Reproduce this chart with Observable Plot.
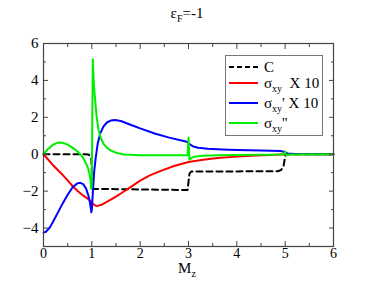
<!DOCTYPE html>
<html>
<head>
<meta charset="utf-8">
<script src="https://cdn.jsdelivr.net/npm/d3@7"></script>
<script src="https://cdn.jsdelivr.net/npm/@observablehq/plot@0.6"></script>
<style>
  html, body { margin: 0; padding: 0; background: #fff; }
  #wrap { position: relative; width: 374px; height: 289px; font-family: "Liberation Serif", "DejaVu Serif", serif; color: #000; }
  #chart { position: absolute; left: 0; top: 0; }
  #chart svg text { font-family: "Liberation Serif", "DejaVu Serif", serif !important; }
  .title { position: absolute; left: 0; width: 374px; top: 6px; text-align: center; font-size: 15px; line-height: 15px; }
  .xlabel { position: absolute; left: 0; width: 374px; top: 263px; text-align: center; font-size: 15px; line-height: 10px; }
  sub { font-size: 10px; vertical-align: -4px; line-height: 0; }
  #legend { position: absolute; left: 225px; top: 55px; width: 96px; height: 79px; border: 1px solid #777; background: #fff; font-size: 15px; }
  .row { position: absolute; left: 3px; height: 18px; display: flex; align-items: center; white-space: pre; }
  .row svg { margin-right: 5px; }
</style>
</head>
<body>
<div id="wrap">
  <div id="chart"></div>
  <div class="title">ε<sub>F</sub>=-1</div>
  <div class="xlabel">M<sub>z</sub></div>
  <div id="legend"></div>
</div>
<script>
// Series: C (dashed black)
const cX = [0, 0.85, 0.93, 0.97, 0.99, 1.01, 1.03, 1.1, 2.0, 2.98, 3.0, 3.02, 3.06, 4.0, 4.85, 4.92, 4.97, 5.0, 5.02, 6];
const cY = [0, 0, -0.02, -0.08, -0.2, -1.85, -1.88, -1.88, -1.91, -1.94, -1.5, -1.05, -0.93, -0.93, -0.92, -0.85, -0.6, -0.1, 0, 0];

// σxy × 10 (red)
const redX = [0, 0.1, 0.2, 0.3, 0.4, 0.5, 0.6, 0.7, 0.8, 0.9, 0.97, 1.02, 1.07, 1.12, 1.2, 1.3, 1.4, 1.5, 1.6, 1.8, 2.0, 2.2, 2.4, 2.7, 3.0, 3.3, 3.6, 4.0, 4.4, 4.8, 5.0, 5.5, 6];
const redY = [0, -0.3, -0.6, -0.87, -1.13, -1.42, -1.72, -1.98, -2.2, -2.38, -2.52, -2.68, -2.78, -2.8, -2.74, -2.6, -2.45, -2.3, -2.13, -1.78, -1.43, -1.15, -0.93, -0.64, -0.42, -0.3, -0.21, -0.13, -0.07, -0.03, 0, 0, 0];

// σxy' × 10 (blue)
const blueX = [0, 0.05, 0.13, 0.2, 0.3, 0.4, 0.5, 0.6, 0.7, 0.76, 0.82, 0.88, 0.93, 0.96, 0.98, 0.99, 1.0, 1.02, 1.05, 1.08, 1.12, 1.17, 1.24, 1.31, 1.4, 1.48, 1.6, 1.8, 2.0, 2.3, 2.6, 2.9, 2.98, 3.02, 3.1, 3.2, 3.4, 3.7, 4.0, 4.5, 4.9, 5.0, 5.05, 5.2, 6];
const blueY = [-4.25, -4.2, -3.97, -3.65, -3.15, -2.65, -2.2, -1.8, -1.58, -1.55, -1.62, -1.85, -2.25, -2.6, -2.95, -3.15, -3.0, -2.1, -0.9, -0.2, 0.55, 1.1, 1.5, 1.72, 1.83, 1.86, 1.8, 1.6, 1.4, 1.12, 0.9, 0.72, 0.66, 0.55, 0.42, 0.35, 0.3, 0.26, 0.23, 0.2, 0.17, 0.12, 0.04, 0.01, 0];

// σxy'' (green)
const greenX = [0, 0.1, 0.2, 0.3, 0.4, 0.5, 0.6, 0.7, 0.76, 0.82, 0.88, 0.92, 0.95, 0.97, 0.99, 1.0, 1.01, 1.02, 1.03, 1.05, 1.07, 1.1, 1.14, 1.19, 1.24, 1.3, 1.38, 1.5, 1.66, 2.0, 2.5, 2.98, 3.0, 3.01, 3.02, 3.04, 3.08, 3.15, 3.3, 3.6, 4.0, 4.5, 4.95, 5.0, 5.02, 5.1, 6];
const greenY = [0, 0.3, 0.52, 0.63, 0.62, 0.52, 0.36, 0.16, 0.0, -0.2, -0.5, -0.75, -1.05, -1.35, -1.88, -1.5, 2.0, 5.15, 4.4, 3.5, 2.9, 2.0, 1.3, 0.85, 0.58, 0.38, 0.22, 0.08, -0.02, -0.05, -0.05, -0.05, 0.9, 0.3, -0.3, -0.25, -0.17, -0.12, -0.08, -0.05, -0.04, -0.03, -0.02, 0.15, -0.05, -0.01, 0];

const xMajor = [0, 1, 2, 3, 4, 5, 6];
const xMinor = [0.5, 1.5, 2.5, 3.5, 4.5, 5.5];
const yMajor = [-4, -2, 0, 2, 4, 6];
const yMinor = [-5, -3, -1, 1, 3, 5];

const legendItems = [
  {label: "C", color: "#000", dash: "5,3"},
  {label: "σ<sub>xy</sub>  X 10", color: "#ff0000", dash: null},
  {label: "σ<sub>xy</sub>' X 10", color: "#0000ff", dash: null},
  {label: "σ<sub>xy</sub>''", color: "#00ee00", dash: null}
];

const toRows = (xs, ys) => xs.map((x, i) => ({x, y: ys[i]}));

const font = "Liberation Serif";
const frameColor = "#444";

const plot = Plot.plot({
  width: 374,
  height: 289,
  marginLeft: 43,
  marginRight: 41,
  marginTop: 43,
  marginBottom: 43,
  style: {fontFamily: font, fontSize: "14px", background: "transparent", overflow: "visible"},
  x: {domain: [0, 6]},
  y: {domain: [-5, 6]},
  marks: [
    Plot.line(toRows(cX, cY), {x: "x", y: "y", stroke: "#000", strokeWidth: 2, strokeDasharray: "6,4"}),
    Plot.line(toRows(redX, redY), {x: "x", y: "y", stroke: "#ff0000", strokeWidth: 2}),
    Plot.line(toRows(blueX, blueY), {x: "x", y: "y", stroke: "#0000ff", strokeWidth: 2}),
    Plot.line(toRows(greenX, greenY), {x: "x", y: "y", stroke: "#00ee00", strokeWidth: 2}),
    Plot.frame({stroke: frameColor, strokeWidth: 1.2}),
    // labels
    Plot.axisX(xMajor, {anchor: "bottom", tickSize: 0, tickPadding: 2, label: null, fontSize: 14, fontFamily: font}),
    Plot.axisY(yMajor, {anchor: "left", tickSize: 0, tickPadding: 5, label: null, fontSize: 15, fontFamily: font}),
    // inward ticks
    Plot.axisX(xMajor, {anchor: "bottom", tickSize: -5, tickFormat: () => "", label: null, stroke: frameColor}),
    Plot.axisX(xMinor, {anchor: "bottom", tickSize: -3, tickFormat: () => "", label: null, stroke: frameColor}),
    Plot.axisX(xMajor, {anchor: "top", tickSize: -5, tickFormat: () => "", label: null, stroke: frameColor}),
    Plot.axisX(xMinor, {anchor: "top", tickSize: -3, tickFormat: () => "", label: null, stroke: frameColor}),
    Plot.axisY(yMajor, {anchor: "left", tickSize: -5, tickFormat: () => "", label: null, stroke: frameColor}),
    Plot.axisY(yMinor, {anchor: "left", tickSize: -3, tickFormat: () => "", label: null, stroke: frameColor}),
    Plot.axisY(yMajor, {anchor: "right", tickSize: -5, tickFormat: () => "", label: null, stroke: frameColor}),
    Plot.axisY(yMinor, {anchor: "right", tickSize: -3, tickFormat: () => "", label: null, stroke: frameColor})
  ]
});
document.getElementById("chart").appendChild(plot);

const legend = document.getElementById("legend");
const rowTops = [2, 18, 38, 58];
legendItems.forEach((d, i) => {
  const row = document.createElement("div");
  row.className = "row";
  row.style.top = rowTops[i] + "px";
  row.innerHTML = `<svg width="30" height="4"><line x1="0" y1="2" x2="29" y2="2" stroke="${d.color}" stroke-width="2" ${d.dash ? `stroke-dasharray="${d.dash}"` : ""}/></svg><span>${d.label}</span>`;
  legend.appendChild(row);
});
</script>
</body>
</html>
